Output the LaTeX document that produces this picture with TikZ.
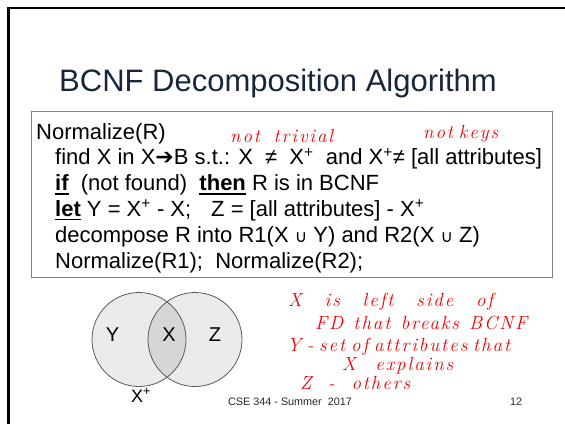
\documentclass[tikz,border=0pt]{standalone}
\usepackage{fontspec}
\setmainfont{Liberation Sans}
\newfontfamily\dejavu{DejaVu Sans}
\newfontfamily\inkfont[LetterSpace=10]{Latin Modern Roman}

\definecolor{titleblue}{RGB}{24,38,60}
\definecolor{boxgray}{RGB}{128,128,128}
\definecolor{setfill}{RGB}{235,235,235}
\definecolor{setmid}{RGB}{214,214,214}
\definecolor{setedge}{RGB}{90,90,90}
\definecolor{inkred}{RGB}{240,0,0}

\newcommand{\kw}[1]{\setbox0\hbox{\bfseries #1}\rlap{\rule[-4pt]{\wd0}{1.8pt}}\box0\relax}
\newcommand{\xp}{X\textsuperscript{+}}
\newcommand{\un}{{\dejavu\fontsize{17}{17}\selectfont ∪}}

\begin{document}
\begin{tikzpicture}[x=1pt,y=-1pt]

\tikzset{SetStyle/.style  = {circle, draw=setedge, line width=0.8pt, minimum size=94pt, inner sep=0pt},
         CodeStyle/.style = {anchor=base west, inner sep=0pt, font=\fontsize{22}{26}\selectfont},
         InkStyle/.style  = {anchor=base west, inner sep=0pt, text=inkred, font=\inkfont\itshape\fontsize{19}{19}\selectfont},
         FootStyle/.style = {anchor=base west, inner sep=0pt, text=black!85, font=\fontsize{10.8}{12}\selectfont}}

\useasboundingbox (0,0) rectangle (565,424);
\draw[line width=2.6pt] (8.7,424) -- (8.7,7.8) -- (565,7.8);

\node[anchor=base west, inner sep=0pt, text=titleblue, font=\fontsize{31}{36}\selectfont] (title) at (59,91) {BCNF Decomposition Algorithm};

\node[draw=boxgray, line width=0.9pt, minimum width=521pt, minimum height=166pt, anchor=north west, inner sep=0pt] (algo) at (31,111) {};

\node[CodeStyle] (l1) at (36,139)   {Normalize(R)};
\node[CodeStyle] (l2) at (55,164.8) {find X in X{\dejavu ➔}B s.t.: X\ \ ≠\ \ \xp\ \ and \xp≠ [all attributes]};
\node[CodeStyle] (l3) at (55,190.6) {\kw{if}\ \ (not found)\ \ \kw{then} R is in BCNF};
\node[CodeStyle] (l4) at (55,216.4) {\kw{let} Y = \xp\ - X;\hspace{20pt}Z = [all attributes] - \xp};
\node[CodeStyle] (l5) at (55,242.2) {decompose R into R1(X \un\ Y) and R2(X \un\ Z)};
\node[CodeStyle] (l6) at (55,268)   {Normalize(R1);\ \ Normalize(R2);};

\fill[setfill] (139,339.5) circle (47pt) (195,339.5) circle (47pt);
\begin{scope}
  \clip (139,339.5) circle (47pt);
  \fill[setmid] (195,339.5) circle (47pt);
\end{scope}
\node[SetStyle] (setY) at (139,339.5) {};
\node[SetStyle] (setZ) at (195,339.5) {};
\node[font=\fontsize{20}{20}\selectfont] (labY) at (112.5,335) {Y};
\node[font=\fontsize{20}{20}\selectfont] (labX) at (169,335) {X};
\node[font=\fontsize{20}{20}\selectfont] (labZ) at (215,335) {Z};
\node[CodeStyle, font=\fontsize{18}{18}\selectfont] (xplus) at (131,402) {\xp};

\node[FootStyle] (foot) at (228,405) {CSE 344 - Summer\ \ 2017};
\node[FootStyle] (page) at (510,405) {12};

\node[InkStyle] (ink1) at (230,142) {\makebox[103pt][s]{not trivial}};
\node[InkStyle] (ink2) at (423,138) {\makebox[75pt][s]{not keys}};
\node[InkStyle] (ink3) at (288,306) {\makebox[205pt][s]{X is left side of}};
\node[InkStyle] (ink4) at (315,329) {\makebox[212pt][s]{FD that breaks BCNF}};
\node[InkStyle] (ink5) at (287,351) {\makebox[223pt][s]{Y - set of attributes that}};
\node[InkStyle] (ink6) at (342,370) {\makebox[111pt][s]{X explains}};
\node[InkStyle] (ink7) at (300,389) {\makebox[110pt][s]{Z - others}};

\end{tikzpicture}
\end{document}
